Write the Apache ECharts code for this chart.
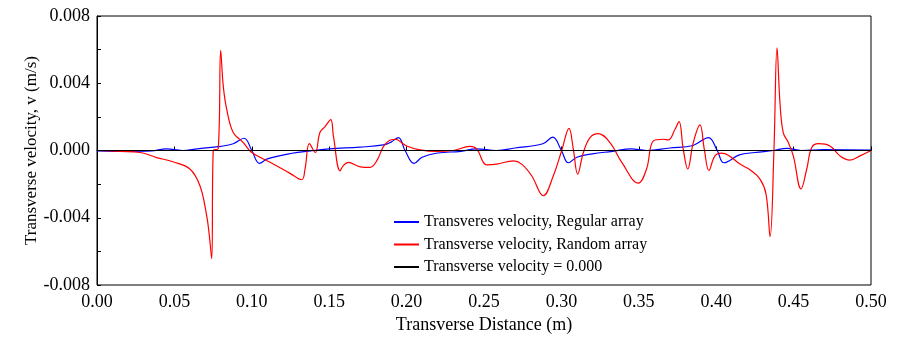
<!DOCTYPE html>
<html>
<head>
<meta charset="utf-8">
<script src="https://cdn.jsdelivr.net/npm/echarts@6/dist/echarts.min.js"></script>
<style>
  html, body { margin: 0; padding: 0; background: #fff; }
  #chart { width: 900px; height: 339px; }
</style>
</head>
<body>
<div id="chart"></div>
<script>
// transverse distance (m) and velocity (m/s)
const regularX = [0, 0.02, 0.035, 0.045, 0.055, 0.065, 0.08, 0.088, 0.095, 0.1, 0.105, 0.11, 0.125, 0.14, 0.15, 0.17, 0.185, 0.19, 0.1947, 0.199, 0.2048, 0.21, 0.22, 0.235, 0.245, 0.258, 0.27, 0.288, 0.2944, 0.3, 0.3045, 0.31, 0.32, 0.333, 0.345, 0.355, 0.37, 0.385, 0.395, 0.4007, 0.405, 0.415, 0.425, 0.437, 0.4457, 0.455, 0.47, 0.5]
const regularV = [-0.00002, -0.00005, -0.00003, 0.0001, 0.0, 0.0001, 0.00025, 0.0004, 0.00073, 0.0, -0.00077, -0.0005, -0.00018, 0.0, 0.0001, 0.0002, 0.00033, 0.0005, 0.00077, 0.0, -0.00077, -0.0004, -0.00015, -0.00005, 0.0001, 0.0, 0.00015, 0.0004, 0.00079, 0.0, -0.00073, -0.0004, -0.0002, -0.00005, 0.0001, 0.0, 0.00015, 0.0003, 0.00077, 0.0, -0.00073, -0.00026, -0.00012, 0.0, 0.00013, 0.0, 0.00005, 0.00002]

const randomX = [0, 0.015, 0.028, 0.0385, 0.049, 0.06, 0.0665, 0.0709, 0.0725, 0.0741, 0.0751, 0.0783, 0.0799, 0.0816, 0.0838, 0.088, 0.0945, 0.1, 0.1118, 0.1247, 0.1322, 0.1344, 0.1372, 0.141, 0.144, 0.1473, 0.151, 0.1527, 0.157, 0.159, 0.1623, 0.17, 0.1764, 0.1807, 0.186, 0.1925, 0.2, 0.2087, 0.2194, 0.23, 0.241, 0.2453, 0.2517, 0.2582, 0.269, 0.2743, 0.2808, 0.2883, 0.2948, 0.3002, 0.3049, 0.3077, 0.3105, 0.3142, 0.3185, 0.3238, 0.3314, 0.339, 0.3497, 0.355, 0.3594, 0.3658, 0.369, 0.3734, 0.376, 0.3787, 0.3816, 0.3852, 0.3895, 0.3923, 0.3953, 0.3992, 0.4035, 0.4078, 0.4154, 0.4218, 0.4283, 0.4322, 0.4348, 0.4373, 0.4393, 0.4412, 0.4433, 0.4466, 0.4498, 0.4548, 0.4585, 0.4617, 0.466, 0.4735, 0.48, 0.4864, 0.4929, 0.5]
const randomV = [0, -0.00005, -0.00012, -0.00042, -0.00067, -0.0011, -0.0021, -0.0039, -0.005, -0.00644, 0, 0.0001, 0.00596, 0.0038, 0.00245, 0.00107, 0.00047, -0.00012, -0.0007, -0.00136, -0.00174, -0.0011, 0.00041, -0.00012, 0.00107, 0.00142, 0.00184, 0.00087, -0.00121, -0.00091, -0.00071, -0.00097, -0.001, -0.00062, 0.00037, 0.00067, 0.00027, 0.00004, -0.00006, 0, 0.00024, 0.00008, -0.00085, -0.00081, -0.00062, -0.00081, -0.0015, -0.00269, -0.0015, 0, 0.00132, 0.00008, -0.0014, -0.00012, 0.00077, 0.001, 0.00047, -0.00071, -0.00194, -0.0011, 0.00057, 0.00067, 0.00063, 0.00126, 0.00172, 0.00008, -0.0011, 0.00047, 0.00152, 0.00008, -0.00119, -0.00032, -0.00016, -0.00028, -0.00081, -0.00115, -0.0017, -0.00259, -0.00512, 0, 0.0061, 0.00284, 0.00107, 0.00047, -0.00032, -0.00229, -0.0011, 0.00018, 0.00041, 0.00027, -0.00032, -0.00057, -0.00032, 0]

const zeroX = [0, 0.5]
const zeroV = [0, 0]

const zip = (xs, ys) => xs.map((x, i) => [x, ys[i]])

const font = "'Liberation Serif', 'Times New Roman', serif"

const myChart = echarts.init(document.getElementById('chart'))
myChart.setOption({
  animation: false,
  grid: {
    left: 97,
    right: 29,
    top: 16,
    bottom: 53,
    show: true,
    borderColor: '#000',
    borderWidth: 1
  },
  legend: {
    orient: 'vertical',
    left: 394,
    top: 212,
    padding: 0,
    itemGap: 2.5,
    itemWidth: 25,
    itemHeight: 2,
    icon: 'rect',
    textStyle: {
      fontFamily: font,
      fontSize: 16,
      color: '#000',
      lineHeight: 20
    },
    data: [
      'Transveres velocity, Regular array',
      'Transverse velocity, Random array',
      'Transverse velocity = 0.000'
    ]
  },
  xAxis: {
    type: 'value',
    min: 0,
    max: 0.5,
    interval: 0.05,
    name: 'Transverse Distance (m)',
    nameLocation: 'middle',
    nameGap: 31,
    nameMoveOverlap: false,
    nameTextStyle: { fontFamily: font, fontSize: 18, color: '#000' },
    axisLine: { lineStyle: { color: '#000', width: 1 } },
    axisTick: { inside: true, length: 4, lineStyle: { color: '#000' } },
    axisLabel: {
      fontFamily: font,
      fontSize: 18,
      color: '#000',
      margin: 8,
      formatter: (v) => v.toFixed(2)
    },
    splitLine: { show: false }
  },
  yAxis: {
    type: 'value',
    min: -0.008,
    max: 0.008,
    interval: 0.002,
    name: 'Transverse velocity, v (m/s)',
    nameLocation: 'middle',
    nameGap: 57,
    nameMoveOverlap: false,
    nameTextStyle: { fontFamily: font, fontSize: 17, color: '#000' },
    axisLine: { lineStyle: { color: '#000', width: 1 } },
    axisTick: { inside: true, length: 4, lineStyle: { color: '#000' } },
    axisLabel: {
      fontFamily: font,
      fontSize: 18,
      color: '#000',
      margin: 7,
      formatter: (v) => (Math.round(Math.abs(v) * 1000) % 4 === 0 ? v.toFixed(3) : '')
    },
    splitLine: { show: false }
  },
  series: [
    {
      name: 'Transveres velocity, Regular array',
      type: 'line',
      data: zip(regularX, regularV),
      showSymbol: false,
      smooth: 0.4,
      color: '#0000ff',
      lineStyle: { width: 1.2, color: '#0000ff' }
    },
    {
      name: 'Transverse velocity, Random array',
      type: 'line',
      data: zip(randomX, randomV),
      showSymbol: false,
      smooth: 0.4,
      color: '#ff0000',
      lineStyle: { width: 1.2, color: '#ff0000' }
    },
    {
      name: 'Transverse velocity = 0.000',
      type: 'line',
      data: zip(zeroX, zeroV),
      showSymbol: false,
      color: '#000',
      lineStyle: { width: 1, color: '#000' }
    }
  ]
})
</script>
</body>
</html>
